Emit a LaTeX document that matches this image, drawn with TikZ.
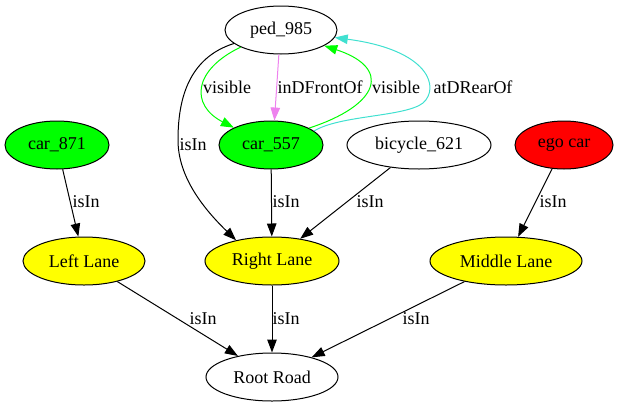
\documentclass[tikz,border=0pt]{standalone}
\usepackage{fontspec}
\setmainfont{Liberation Serif}
\usetikzlibrary{shapes.geometric,arrows.meta}
\definecolor{xgreen}{RGB}{0,255,0}
\definecolor{xyellow}{RGB}{255,255,0}
\definecolor{xred}{RGB}{255,0,0}
\definecolor{xviolet}{RGB}{238,130,238}
\definecolor{xturq}{RGB}{64,224,208}
\begin{document}
\begin{tikzpicture}[x=1pt,y=-1pt,
  obj/.style={ellipse,draw=black,line width=1pt,inner sep=0pt,minimum height=48pt,font=\fontsize{18}{20}\selectfont},
  lbl/.style={inner sep=0pt,font=\fontsize{18}{20}\selectfont},
  edge/.style={line width=1pt,-{Triangle[length=13pt,width=9.5pt]}},
]
\useasboundingbox (0,0) rectangle (618,407);
% nodes
\node[obj,fill=white,minimum width=112pt] (ped) at (281,30) {ped\_985};
\node[obj,fill=xgreen,minimum width=104pt] (car871) at (57,145) {car\_871};
\node[obj,fill=xgreen,minimum width=104pt] (car557) at (271,145) {car\_557};
\node[obj,fill=white,minimum width=144pt] (bicycle) at (419,145) {bicycle\_621};
\node[obj,fill=xred,minimum width=98pt] (ego) at (564,145) {ego car};
\node[obj,fill=xyellow,minimum width=122pt] (left) at (84,261) {Left Lane};
\node[obj,fill=xyellow,minimum width=134pt] (right) at (272,261) {Right Lane};
\node[obj,fill=xyellow,minimum width=152pt] (middle) at (506,261) {Middle Lane};
\node[obj,fill=white,minimum width=132pt] (root) at (272,377) {Root Road};
% curved edges at top
\draw[edge,draw=xgreen,-{Triangle[length=13pt,width=9.5pt,fill=xgreen]}]
  (ped.203) .. controls (193,70) and (190,105) .. (car557.155);
\draw[edge,draw=xviolet,-{Triangle[length=13pt,width=9.5pt,fill=xviolet]}]
  (ped.265) -- (car557.82);
\draw[edge,draw=xgreen,-{Triangle[length=13pt,width=9.5pt,fill=xgreen]}]
  (car557.24) .. controls (380,105) and (392,68) .. (ped.340);
\draw[edge,draw=xturq,-{Triangle[length=13pt,width=9.5pt,fill=xturq]}]
  (car557.18) .. controls (340,115) and (405,117) .. (423,103)
  .. controls (440,88) and (430,50) .. (ped.352);
\draw[edge] (ped.196) .. controls (188,58) and (178,100) .. (178,140)
  .. controls (178,178) and (205,210) .. (right.150);
% straight edges
\draw[edge] (car871) -- (left);
\draw[edge] (car557) -- (right);
\draw[edge] (bicycle) -- (right);
\draw[edge] (ego) -- (middle);
\draw[edge] (left) -- (root);
\draw[edge] (right) -- (root);
\draw[edge] (middle) -- (root);
% labels
\node[lbl] (lv1) at (227,87) {visible};
\node[lbl] (lfront) at (320,87) {inDFrontOf};
\node[lbl] (lv2) at (396,87) {visible};
\node[lbl] (lrear) at (473,87) {atDRearOf};
\node[lbl] (lped) at (193,145) {isIn};
\node[lbl] (l871) at (86,202) {isIn};
\node[lbl] (l557) at (286,202) {isIn};
\node[lbl] (lbic) at (370,202) {isIn};
\node[lbl] (lego) at (553,202) {isIn};
\node[lbl] (lleft) at (203,319) {isIn};
\node[lbl] (lright) at (286,319) {isIn};
\node[lbl] (lmid) at (416,319) {isIn};
\end{tikzpicture}
\end{document}
